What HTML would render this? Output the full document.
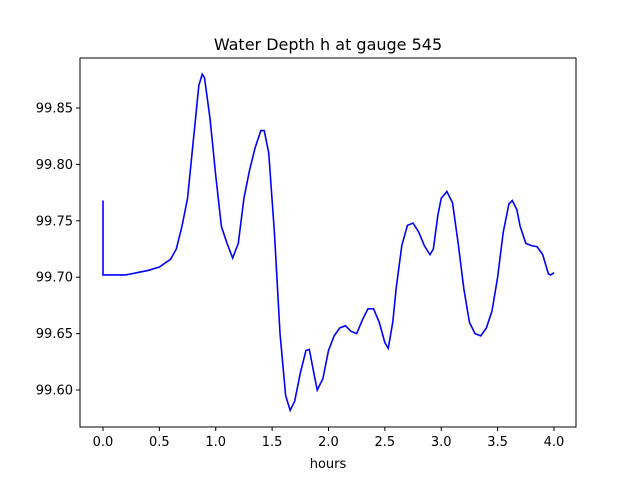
<!DOCTYPE html>
<html><head><meta charset="utf-8"><style>
body{margin:0;background:#fff}
svg{display:block;font-family:"DejaVu Sans","Liberation Sans",sans-serif}
</style></head><body>
<svg id="chart" width="640" height="480">
<rect x="0" y="0" width="640" height="480" fill="#fff"/>
<text x="328" y="50" font-size="16" text-anchor="middle">Water Depth h at gauge 545</text>
<g id="xt"></g>
<g id="yt"></g>
<path id="line" fill="none" stroke="#0000ff" stroke-width="1.6"/>
<rect x="80" y="58" width="496" height="369" fill="none" stroke="#000" stroke-width="1"/>
<text x="328" y="468" font-size="13" text-anchor="middle">hours</text>
</svg>
<script>
const xs=[0,0,0.2,0.4,0.5,0.6,0.65,0.7,0.75,0.8,0.85,0.88,0.9,0.95,1.0,1.05,1.1,1.15,1.2,1.25,1.3,1.35,1.4,1.43,1.47,1.52,1.57,1.62,1.66,1.7,1.75,1.8,1.83,1.87,1.9,1.95,2.0,2.05,2.1,2.15,2.2,2.25,2.3,2.35,2.4,2.45,2.5,2.53,2.57,2.6,2.65,2.7,2.75,2.8,2.85,2.9,2.93,2.97,3.0,3.05,3.1,3.15,3.2,3.25,3.3,3.35,3.4,3.45,3.5,3.55,3.6,3.63,3.67,3.7,3.75,3.8,3.85,3.9,3.95,3.97,4.0];
const ys=[99.768,99.702,99.702,99.706,99.709,99.716,99.725,99.745,99.77,99.82,99.87,99.88,99.877,99.84,99.79,99.745,99.73,99.717,99.73,99.77,99.795,99.815,99.83,99.83,99.81,99.74,99.65,99.595,99.582,99.59,99.615,99.635,99.636,99.615,99.6,99.61,99.635,99.648,99.655,99.657,99.652,99.65,99.662,99.672,99.672,99.66,99.642,99.637,99.66,99.69,99.728,99.746,99.748,99.74,99.728,99.72,99.725,99.755,99.77,99.776,99.766,99.73,99.69,99.66,99.65,99.648,99.655,99.67,99.7,99.74,99.765,99.768,99.76,99.745,99.73,99.728,99.727,99.72,99.703,99.702,99.704];
const xTicks=[0,0.5,1,1.5,2,2.5,3,3.5,4];
const yTicks=[99.60,99.65,99.70,99.75,99.80,99.85];
const X=v=>103+v*112.75;
const Y=v=>108+(99.85-v)/0.05*56.4;
const NS="http://www.w3.org/2000/svg";
let d="";
xs.forEach((x,i)=>{d+=(i?"L":"M")+X(x).toFixed(2)+","+Y(ys[i]).toFixed(2);});
document.getElementById("line").setAttribute("d",d);
const xt=document.getElementById("xt");
xTicks.forEach(t=>{
 const l=document.createElementNS(NS,"line");
 l.setAttribute("x1",X(t));l.setAttribute("x2",X(t));l.setAttribute("y1",427);l.setAttribute("y2",431);l.setAttribute("stroke","#000");
 
 
 xt.appendChild(l);
 const s=document.createElementNS(NS,"text");
 s.setAttribute("x",X(t));s.setAttribute("y",446);s.setAttribute("font-size","13");s.setAttribute("text-anchor","middle");
 s.textContent=t.toFixed(1);
 
 
 xt.appendChild(s);
});
const yt=document.getElementById("yt");
yTicks.forEach(t=>{
 const l=document.createElementNS(NS,"line");
 l.setAttribute("x1",76);l.setAttribute("x2",80);l.setAttribute("y1",Y(t));l.setAttribute("y2",Y(t));l.setAttribute("stroke","#000");
 
 
 yt.appendChild(l);
 const s=document.createElementNS(NS,"text");
 s.setAttribute("x",73);s.setAttribute("y",Y(t)+4.5);s.setAttribute("font-size","13");s.setAttribute("text-anchor","end");
 s.textContent=t.toFixed(2);
 
 
 yt.appendChild(s);
});
</script>
</body></html>
